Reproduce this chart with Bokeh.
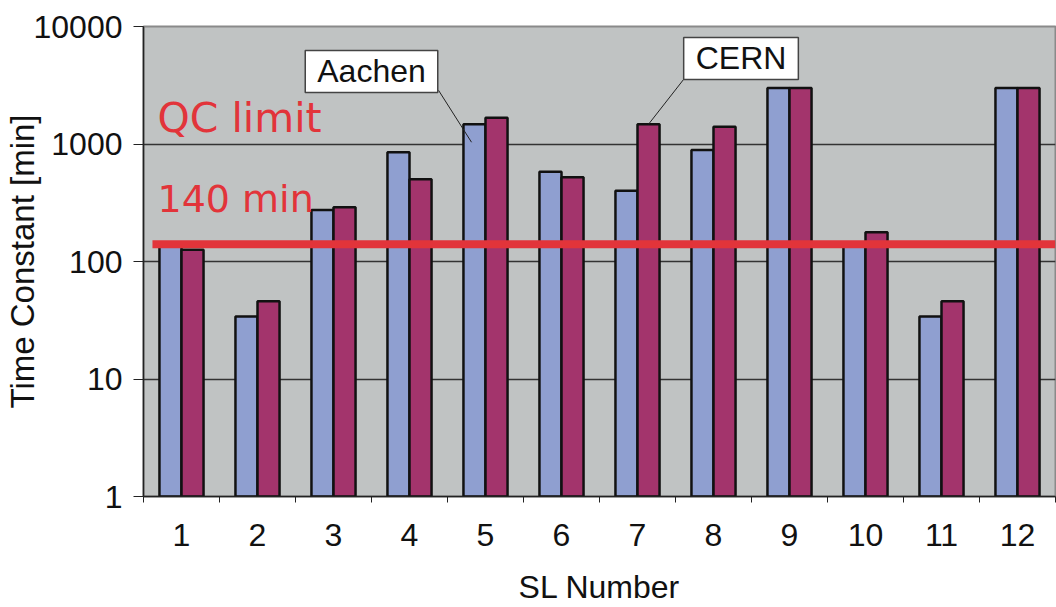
from bokeh.plotting import figure
from bokeh.models import (ColumnDataSource, FixedTicker, PrintfTickFormatter, Label, Range1d)
from bokeh.embed import file_html
from bokeh.resources import INLINE

sl_numbers = [1, 2, 3, 4, 5, 6, 7, 8, 9, 10, 11, 12]
aachen = [140, 34, 275, 850, 1470, 580, 400, 890, 3000, 140, 34, 3000]
cern = [126, 46, 290, 500, 1670, 520, 1470, 1400, 3000, 177, 46, 3000]
y_ticks = [1, 10, 100, 1000, 10000]
qc_limit = 140

BAR_W = 0.29
src = ColumnDataSource(dict(
    x_a=[s - BAR_W / 2 for s in sl_numbers],
    x_c=[s + BAR_W / 2 for s in sl_numbers],
    aachen=aachen, cern=cern,
))

FONT = "Liberation Sans"
RED = "#e2343a"

p = figure(width=1056, height=607, y_axis_type="log",
           x_range=Range1d(0.5, 12.5), y_range=Range1d(1, 10000),
           output_backend="svg", toolbar_location=None,
           min_border_left=143, min_border_top=26, min_border_bottom=110,
           min_border_right=1)
p.background_fill_color = "#c0c3c3"
p.border_fill_color = "white"
p.outline_line_color = "#8a8a8a"
p.outline_line_width = 2

p.vbar(x="x_a", top="aachen", bottom=1, width=BAR_W, source=src,
       fill_color="#8f9fd0", line_color="#111111", line_width=2.5)
p.vbar(x="x_c", top="cern", bottom=1, width=BAR_W, source=src,
       fill_color="#a3346c", line_color="#111111", line_width=2.5)

# QC limit line
p.segment(x0=0.618, x1=12.5, y0=qc_limit, y1=qc_limit,
          line_color=RED, line_width=8)

# grid
p.xgrid.visible = False
p.ygrid.ticker = FixedTicker(ticks=y_ticks)
p.ygrid.grid_line_color = "#333333"
p.ygrid.grid_line_width = 1.5
p.ygrid.level = "underlay"

# y axis
p.yaxis.ticker = FixedTicker(ticks=y_ticks, minor_ticks=[])
p.yaxis.formatter = PrintfTickFormatter(format="%d")
p.yaxis.axis_label = "Time Constant [min]"
p.yaxis.axis_label_text_font = FONT
p.yaxis.axis_label_text_font_style = "normal"
p.yaxis.axis_label_text_font_size = "33px"
p.yaxis.axis_label_text_color = "#111111"
p.yaxis.axis_label_standoff = -10
p.yaxis.major_label_text_font = FONT
p.yaxis.major_label_text_font_size = "32px"
p.yaxis.major_label_text_color = "#111111"
p.yaxis.major_label_standoff = 11
p.yaxis.major_tick_out = 10
p.yaxis.major_tick_in = 0
p.yaxis.axis_line_color = "#222222"
p.yaxis.axis_line_width = 1.5
p.yaxis.major_tick_line_color = "#222222"

# x axis
p.xaxis.ticker = FixedTicker(ticks=sl_numbers,
                             minor_ticks=[s - 0.5 for s in sl_numbers] + [12.5])
p.xaxis.axis_label = "SL Number"
p.xaxis.axis_label_text_font = FONT
p.xaxis.axis_label_text_font_style = "normal"
p.xaxis.axis_label_text_font_size = "32px"
p.xaxis.axis_label_text_color = "#111111"
p.xaxis.axis_label_standoff = 20
p.xaxis.major_label_text_font = FONT
p.xaxis.major_label_text_font_size = "32px"
p.xaxis.major_label_text_color = "#111111"
p.xaxis.major_label_standoff = 21
p.xaxis.major_tick_out = 0
p.xaxis.major_tick_in = 0
p.xaxis.minor_tick_out = 6
p.xaxis.minor_tick_in = 0
p.xaxis.minor_tick_line_color = "#222222"
p.xaxis.axis_line_color = "#222222"
p.xaxis.axis_line_width = 1.5

# handwritten-style red notes
p.add_layout(Label(x=0.684, y=1655, text="QC limit", text_font="DejaVu Sans",
                   text_font_size="41px", text_color=RED,
                   text_baseline="alphabetic"))
p.add_layout(Label(x=0.684, y=340, text="140 min", text_font="DejaVu Sans",
                   text_font_size="38px", text_color=RED,
                   text_baseline="alphabetic"))

# callouts
p.segment(x0=[4.382, 7.628], y0=[2863, 3690], x1=[4.816, 7.145], y1=[1035, 1472],
          line_color="#222222", line_width=1)
for txt, lx, ly in (("Aachen", 3.5, 4150), ("CERN", 8.362, 5350)):
    p.add_layout(Label(x=lx, y=ly, text=txt, text_font=FONT,
                       text_font_size="32px", text_color="#111111",
                       text_align="center", text_baseline="middle",
                       background_fill_color="white",
                       border_line_color="#444444", border_line_width=1.5,
                       padding=(12, 3)))

open("out.html", "w").write(file_html(p, INLINE))
